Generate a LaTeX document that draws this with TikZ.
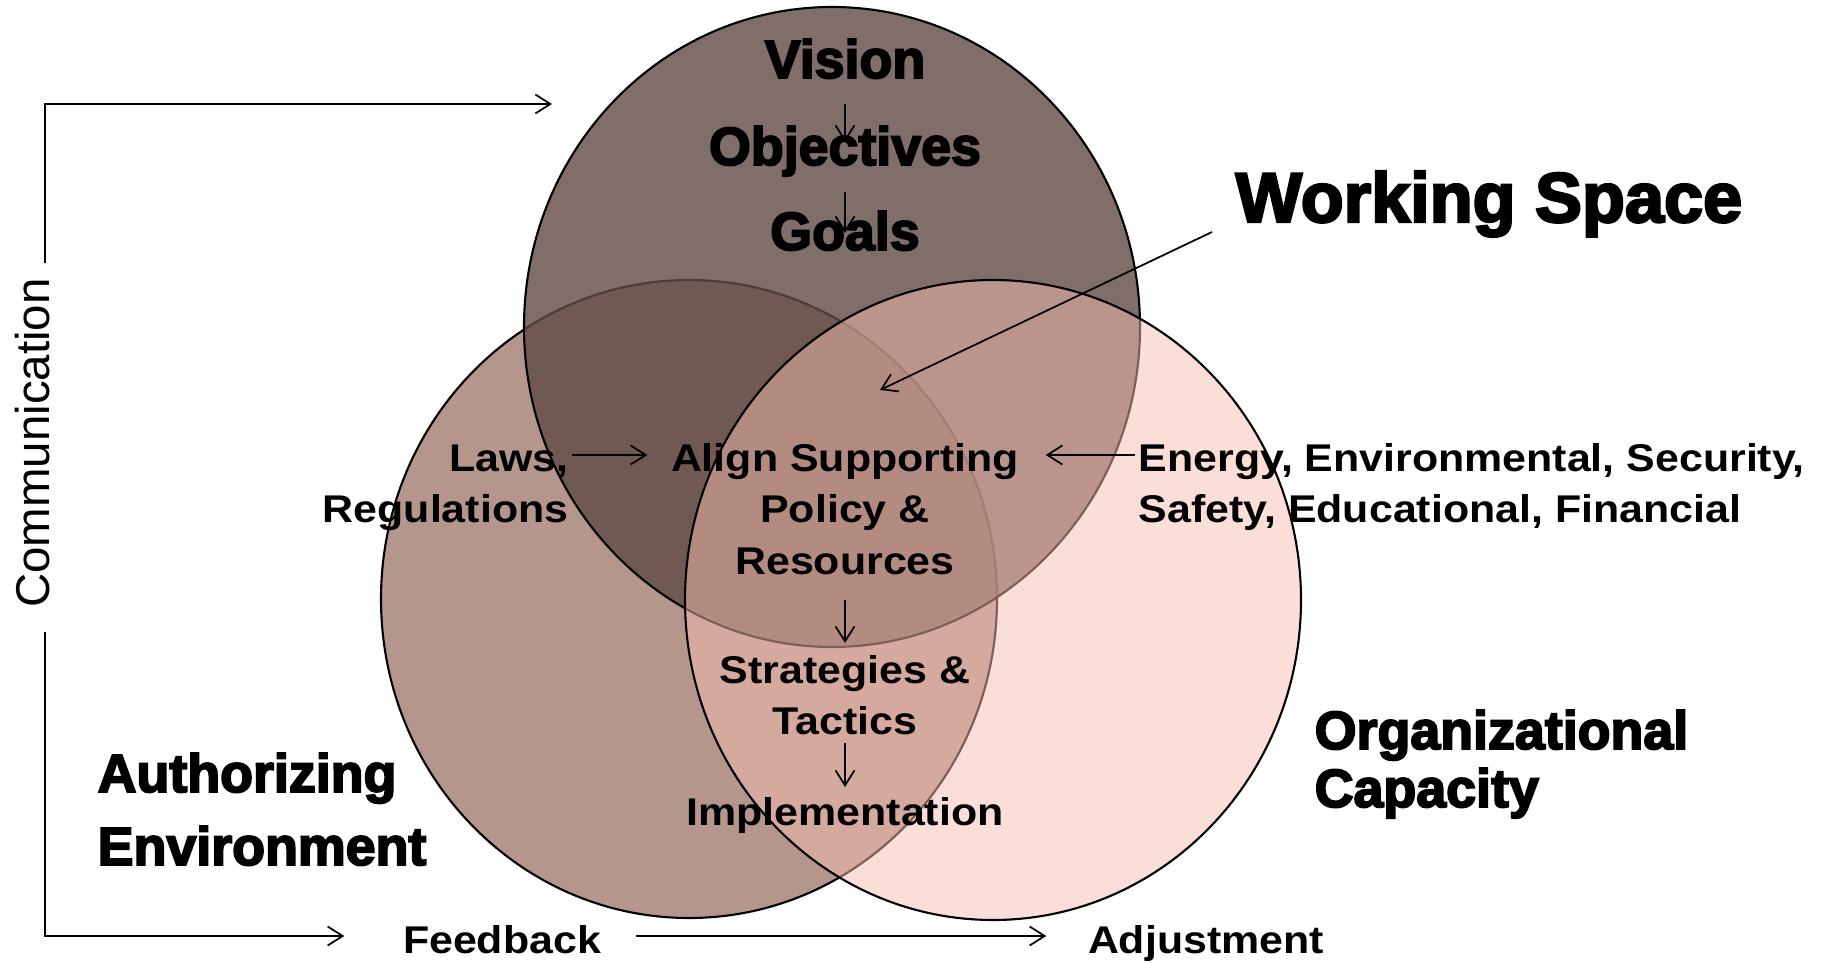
\documentclass[tikz,border=0pt]{standalone}
\usepackage{fontspec}
\setmainfont{Liberation Sans}
\newfontfamily\midfont{Liberation Sans}[FakeStretch=1.11]
\newfontfamily\heavyfont{Liberation Sans}[BoldFeatures={FakeBold=3.5}]
\usetikzlibrary{calc,arrows.meta}
\tikzset {>={Straight Barb[length=1.5mm,width=1.9mm]}}
\definecolor{authfill}{RGB}{180,150,140}
\definecolor{visfill}{RGB}{96,74,69}
\definecolor{capfill}{RGB}{247,189,175}

\begin{document}
\begin{tikzpicture}[x=0.1mm,y=-0.1mm,
  heavy/.style={font=\heavyfont\bfseries\fontsize{15.3}{18}\selectfont,inner sep=0pt},
  mid/.style={font=\midfont\bfseries\fontsize{11}{13}\selectfont,inner sep=0pt},
  link/.style={->,line width=.5pt},
  ring/.style={draw,line width=.6pt}]
\useasboundingbox (0,0) rectangle (1840,964);
\filldraw[ring,fill=authfill] (689,599) ellipse [x radius=308,y radius=319];
\filldraw[ring,fill=visfill,fill opacity=.8] (832,327) ellipse [x radius=308,y radius=320];
\filldraw[ring,fill=capfill,fill opacity=.5] (993,600) ellipse [x radius=308,y radius=320];
\foreach \n/\t/\y in {vision/Vision/78,objectives/Objectives/165,goals/Goals/250}
  \node[heavy,anchor=base] (\n) at (845,\y) {\t};
\node[heavy,font=\heavyfont\bfseries\fontsize{20}{24}\selectfont,anchor=base west]
  (space) at (1235,222) {Working Space};
\node[heavy,anchor=base west] (authorizing) at (97,792) {Authorizing};
\node[heavy,anchor=base west] (environment) at (97,865) {Environment};
\node[heavy,anchor=base west] (organizational) at (1314,749) {Organizational};
\node[heavy,anchor=base west] (capacity) at (1314,807) {Capacity};
\foreach \n/\t/\y in {align/Align Supporting/472,policy/Policy \&/523,
    resources/Resources/575,strategies/Strategies \&/684,tactics/Tactics/735,
    implementation/Implementation/826}
  \node[mid,anchor=base] (\n) at (845,\y) {\t};
\node[mid,anchor=base east] (laws) at (569,472) {Laws,};
\node[mid,anchor=base east] (regulations) at (569,523) {Regulations};
\node[mid,anchor=base west] (energy) at (1138,472) {Energy, Environmental, Security,};
\node[mid,anchor=base west] (safety) at (1138,523) {Safety, Educational, Financial};
\node[mid,anchor=base] (feedback) at (502,953) {Feedback};
\node[mid,anchor=base] (adjustment) at (1206,953) {Adjustment};
\node[font=\fontsize{13.5}{16}\selectfont,rotate=90,inner sep=0pt] (comm) at (33,443) {Communication};
\draw[link] ($(vision.base)+(0,26)$) -- ($(objectives.base)+(0,-23)$);
\draw[link] ($(objectives.base)+(0,27)$) -- ($(goals.base)+(0,-17)$);
\draw[link] ($(laws.base east)+(3,-17)$) -- ($(align.base west)+(-23,-17)$);
\draw[link] ($(energy.base west)+(-3,-17)$) -- ($(align.base east)+(26,-17)$);
\draw[link] ($(resources.base)+(0,25)$) -- ($(strategies.base)+(0,-41)$);
\draw[link] ($(tactics.base)+(0,8)$) -- ($(implementation.base)+(0,-39)$);
\coordinate (core) at (880,390);
\draw[link] ($(space.base west)+(-23,10)$) -- (core);
\coordinate (commtop) at (45,263);
\coordinate (commbot) at (45,632);
\coordinate (vistip) at (552,104);
\draw[link] (commtop) |- (vistip);
\draw[link] (commbot) |- ($(feedback.base west)+(-58,-17)$);
\draw[link] ($(feedback.base east)+(34,-17)$) -- ($(adjustment.base west)+(-41,-17)$);
\end{tikzpicture}
\end{document}
